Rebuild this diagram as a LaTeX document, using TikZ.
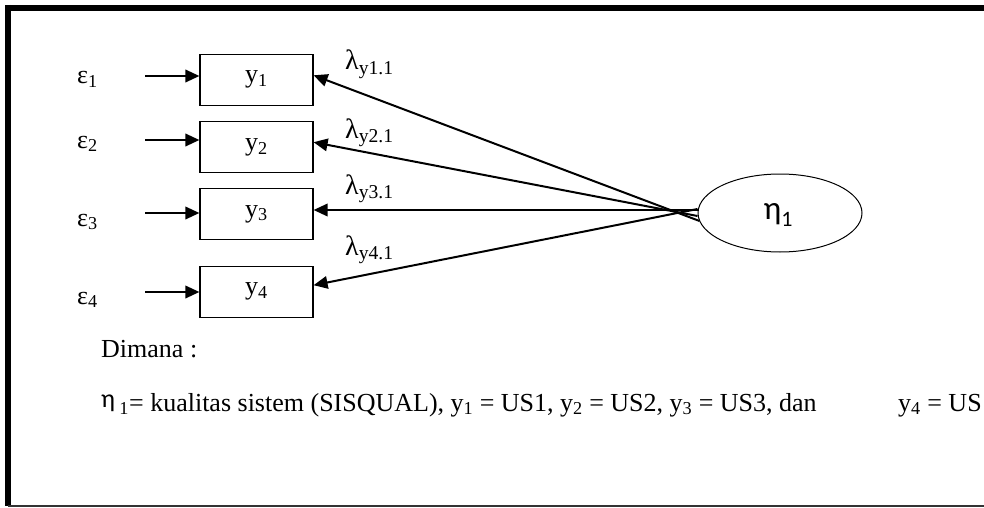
\documentclass[tikz,border=0pt]{standalone}
\usepackage{fontspec}
\setmainfont{Liberation Serif}
\newfontfamily\calibfont{Carlito}
\usetikzlibrary{arrows.meta,shapes.geometric,calc}

\begin{document}
\begin{tikzpicture}[x=1pt,y=-1pt,
  obs/.style={draw, line width=1.2pt, minimum width=113pt, minimum height=51pt,
    inner sep=0pt, font=\fontsize{26}{30}\selectfont},
  lat/.style={draw, ellipse, line width=1pt, minimum width=164pt,
    minimum height=78pt, inner sep=0pt},
  arr/.style={line width=2pt, -{Triangle[length=14pt,width=12.5pt]}},
  lbl/.style={inner sep=0pt, anchor=base west, font=\fontsize{26}{30}\selectfont},
  lam/.style={inner sep=0pt, anchor=base west, font=\fontsize{28}{32}\selectfont},
  note/.style={inner sep=0pt, anchor=base west, font=\fontsize{26}{30}\selectfont}]
\useasboundingbox (0,0) rectangle (984,508);

% frame: heavy top and left rules, thin bottom rule
\draw[line width=6pt] (5,8) -- (984,8);
\draw[line width=6pt] (8,5) -- (8,506);
\draw[line width=1.5pt, black!80] (8,506) -- (984,506);

% indicators
\node[obs] (y1) at (256.5,79.8) {y\textsubscript{1}};
\node[obs] (y2) at (256.5,147.2) {y\textsubscript{2}};
\node[obs] (y3) at (256.5,214) {y\textsubscript{3}};
\node[obs] (y4) at (256.5,291.7) {y\textsubscript{4}};

% latent construct
\node[lat] (eta) at (780,213) {};
\node[inner sep=0pt] (etalbl) at (778,215)
  {\calibfont\fontsize{33}{37}\selectfont η\raisebox{-7pt}{\fontsize{22}{25}\selectfont 1}};

% error terms
\node[lbl] (e1l) at (77,84) {ε\textsubscript{1}};
\node[lbl] (e2l) at (77,148) {ε\textsubscript{2}};
\node[lbl] (e3l) at (77,226) {ε\textsubscript{3}};
\node[lbl] (e4l) at (77,304) {ε\textsubscript{4}};

\coordinate (e1) at (145,76);
\coordinate (e2) at (145,140);
\coordinate (e3) at (145,213);
\coordinate (e4) at (145,292);
\draw[arr] (e1) -- (e1 -| y1.west);
\draw[arr] (e2) -- (e2 -| y2.west);
\draw[arr] (e3) -- (e3 -| y3.west);
\draw[arr] (e4) -- (e4 -| y4.west);

% loadings
\coordinate (s1) at ($(eta.west)+(2,8)$);
\coordinate (s2) at ($(eta.west)+(0,3)$);
\coordinate (s3) at ($(eta.west)+(0,-3)$);
\coordinate (s4) at ($(eta.west)+(0,-4)$);
\draw[arr] (s1) -- ($(y1.east)+(0,-4.5)$);
\draw[arr] (s2) -- ($(y2.east)+(0,-5)$);
\draw[arr] (s3) -- ($(y3.east)+(0,-4)$);
\draw[arr] (s4) -- ($(y4.east)+(0,-6.5)$);

\node[lam] (l1) at (345,70) {λ\textsubscript{y1.1}};
\node[lam] (l2) at (345,138) {λ\textsubscript{y2.1}};
\node[lam] (l3) at (345,194) {λ\textsubscript{y3.1}};
\node[lam] (l4) at (345,255) {λ\textsubscript{y4.1}};

% legend
\node[note] (dim) at (101,357) {Dimana :};
\node[note] (leg) at (101,411)
  {\raisebox{4pt}{\calibfont η}\,\textsubscript{1}= kualitas sistem (SISQUAL), y\textsubscript{1} = US1, y\textsubscript{2} = US2, y\textsubscript{3} = US3, dan};
\node[note] (leg4) at (898,411) {y\textsubscript{4} = US};
\end{tikzpicture}
\end{document}
